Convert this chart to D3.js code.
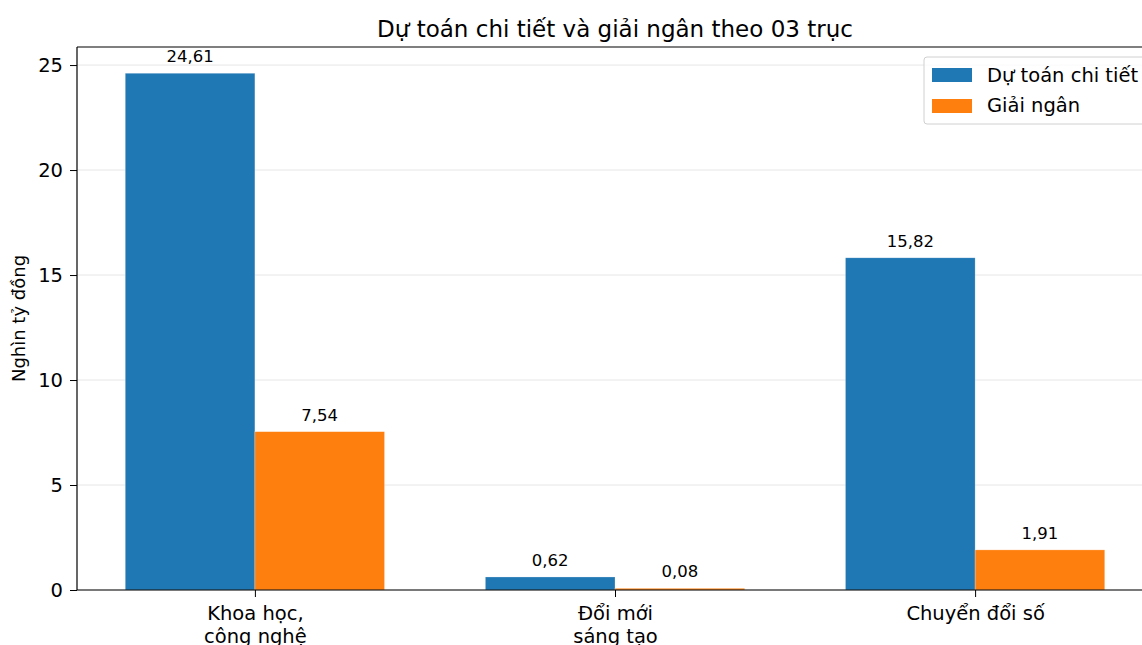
<!DOCTYPE html>
<html>
<head>
<meta charset="utf-8">
<script src="https://cdn.jsdelivr.net/npm/d3@7"></script>
<style>
  body { margin: 0; background: #fff; }
  text { font-family: "DejaVu Sans", sans-serif; fill: #000; }
</style>
</head>
<body>
<div id="chart"></div>
<script>
// chart values
const categories = [["Khoa học,", "công nghệ"], ["Đổi mới", "sáng tạo"], ["Chuyển đổi số"]];
const seriesNames = ["Dự toán chi tiết", "Giải ngân"];
const duToan = [24.61, 0.62, 15.82];
const giaiNgan = [7.54, 0.08, 1.91];
const yTicks = [0, 5, 10, 15, 20, 25];
const colors = ["#1f77b4", "#ff7f0e"];

const W = 1142, H = 645;
const margin = {top: 47, left: 77, bottom: 55};
const plotH = H - margin.top - margin.bottom;

const svg = d3.select("#chart").append("svg")
    .attr("width", W)
    .attr("height", H);

// x positions: categories at 0,1,2 with xlim like matplotlib
const x = d3.scaleLinear()
    .domain([-0.494, 2.494])
    .range([margin.left, margin.left + 1076]);
const y = d3.scaleLinear()
    .domain([0, 25.86])
    .range([margin.top + plotH, margin.top]);

const barW = 0.36;
const fmt = v => v.toFixed(2).replace(".", ",");

// grid
svg.append("g").selectAll("line")
    .data(yTicks)
    .join("line")
    .attr("x1", x.range()[0]).attr("x2", x.range()[1])
    .attr("y1", d => y(d)).attr("y2", d => y(d))
    .attr("stroke", "#e6e6e6")
    .attr("stroke-width", 1);

// bars
const series = [duToan, giaiNgan];
series.forEach((vals, s) => {
    const off = s === 0 ? -barW : 0;
    svg.append("g").selectAll("rect")
        .data(vals)
        .join("rect")
        .attr("x", (d, i) => x(i + off))
        .attr("y", d => y(d))
        .attr("width", x(barW) - x(0))
        .attr("height", d => y(0) - y(d))
        .attr("fill", colors[s])
        .attr("stroke", "#ffffff")
        .attr("stroke-opacity", 0.4)
        .attr("stroke-width", 0.6);

    svg.append("g").selectAll("text")
        .data(vals)
        .join("text")
        .attr("x", (d, i) => x(i + off + barW / 2))
        .attr("y", d => y(d) - 11)
        .attr("text-anchor", "middle")
        .attr("font-size", "16.5px")
        .text(d => fmt(d));
});

// axes
const yAxis = d3.axisLeft(y).tickValues(yTicks).tickSize(7).tickPadding(7);
svg.append("g")
    .attr("transform", "translate(" + margin.left + ",0)")
    .call(yAxis)
    .call(g => g.select(".domain").remove())
    .call(g => g.selectAll("text").attr("font-size", "19.5px").attr("font-family", "DejaVu Sans"));

const xAxis = d3.axisBottom(x).tickValues([0, 1, 2]).tickSize(7).tickFormat("");
const gx = svg.append("g")
    .attr("transform", "translate(0," + y(0) + ")")
    .call(xAxis)
    .call(g => g.select(".domain").remove());

gx.selectAll(".tick").each(function(d) {
    const t = d3.select(this).append("text")
        .attr("text-anchor", "middle")
        .attr("font-size", "19.5px")
        .attr("fill", "#000");
    categories[d].forEach((line, k) => {
        t.append("tspan")
            .attr("x", 0)
            .attr("y", 30 + k * 23)
            .text(line);
    });
});

// spines
svg.append("line")
    .attr("x1", margin.left).attr("x2", margin.left)
    .attr("y1", margin.top).attr("y2", y(0))
    .attr("stroke", "#000").attr("stroke-width", 1.2);
svg.append("line")
    .attr("x1", margin.left).attr("x2", x.range()[1])
    .attr("y1", y(0)).attr("y2", y(0))
    .attr("stroke", "#000").attr("stroke-width", 1.2);
svg.append("line")
    .attr("x1", margin.left).attr("x2", x.range()[1])
    .attr("y1", margin.top).attr("y2", margin.top)
    .attr("stroke", "#000").attr("stroke-width", 1.2);
svg.append("line")
    .attr("x1", x.range()[1]).attr("x2", x.range()[1])
    .attr("y1", margin.top).attr("y2", y(0))
    .attr("stroke", "#000").attr("stroke-width", 1.2);

// title
svg.append("text")
    .attr("x", (x.range()[0] + x.range()[1]) / 2)
    .attr("y", 37)
    .attr("text-anchor", "middle")
    .attr("font-size", "23px")
    .text("Dự toán chi tiết và giải ngân theo 03 trục");

// y label
svg.append("text")
    .attr("transform", "translate(25," + (margin.top + plotH / 2) + ") rotate(-90)")
    .attr("text-anchor", "middle")
    .attr("font-size", "18px")
    .text("Nghìn tỷ đồng");

// legend
const lg = svg.append("g").attr("transform", "translate(924,57)");
lg.append("rect")
    .attr("width", 240).attr("height", 67)
    .attr("rx", 3)
    .attr("fill", "#fff").attr("fill-opacity", 0.8)
    .attr("stroke", "#d0d0d0");
seriesNames.forEach((name, i) => {
    lg.append("rect")
        .attr("x", 8).attr("y", 11 + i * 31)
        .attr("width", 40).attr("height", 14)
        .attr("fill", colors[i]);
    lg.append("text")
        .attr("x", 63).attr("y", 25 + i * 30)
        .attr("font-size", "19.5px")
        .text(name);
});
</script>
</body>
</html>
